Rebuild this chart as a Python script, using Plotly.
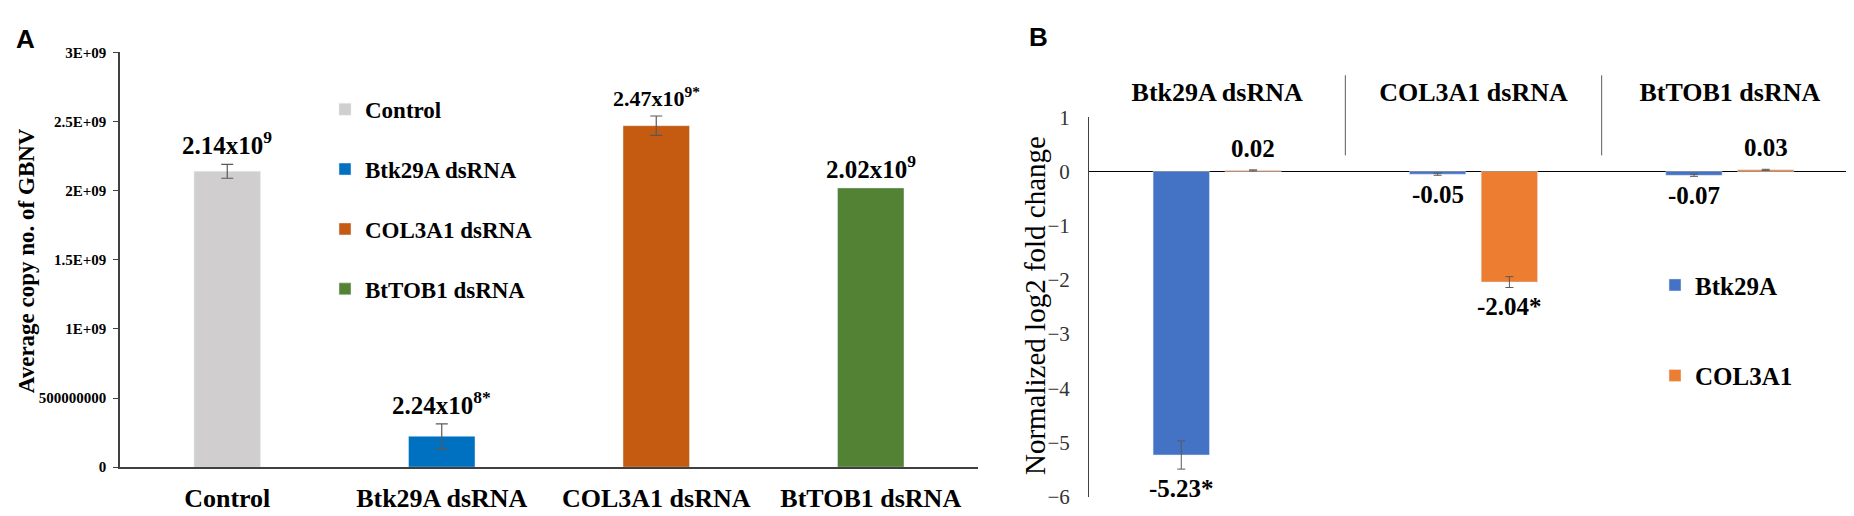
import plotly.graph_objects as go

# panel A: average copy number of GBNV
a_cats = ["Control", "Btk29A dsRNA", "COL3A1 dsRNA", "BtTOB1 dsRNA"]
a_vals = [2.14e9, 2.24e8, 2.47e9, 2.02e9]
a_err = [0.05e9, 0.09e9, 0.07e9, 0]
a_labels = ["2.14x10<sup>9</sup>", "2.24x10<sup>8*</sup>", "2.47x10<sup>9*</sup>", "2.02x10<sup>9</sup>"]
a_colors = ["#d0cece", "#0070c0", "#c55a11", "#548235"]
a_tickvals = [0, 5e8, 1e9, 1.5e9, 2e9, 2.5e9, 3e9]
a_ticktext = ["0", "500000000", "1E+09", "1.5E+09", "2E+09", "2.5E+09", "3E+09"]

# panel B: normalized log2 fold change
b_cats = ["Btk29A dsRNA", "COL3A1 dsRNA", "BtTOB1 dsRNA"]
b_btk = [-5.23, -0.05, -0.07]
b_btk_err = [0.26, 0.02, 0.02]
b_btk_labels = ["-5.23*", "-0.05", "-0.07"]
b_col = [0.02, -2.04, 0.03]
b_col_err = [0.01, 0.10, 0.01]
b_col_labels = ["0.02", "-2.04*", "0.03"]
b_tickvals = [1, 0, -1, -2, -3, -4, -5, -6]

W, H = 1854, 516
SERIF = "Liberation Serif, Times New Roman, serif"
SANS = "Liberation Sans, Arial, sans-serif"

def px_x(p):
    return p / W

def px_y(p):
    return (H - p) / H

fig = go.Figure()

for i, cat in enumerate(a_cats):
    fig.add_trace(go.Bar(
        x=[cat], y=[a_vals[i]], name=cat, marker_color=a_colors[i],
        width=0.31, offsetgroup="a", legendgroup=cat, legend="legend",
        error_y=dict(type="data", array=[a_err[i]], visible=a_err[i] > 0,
                     color="#595959", thickness=1.2, width=6),
        xaxis="x", yaxis="y",
    ))

bw = 0.22
b_offsets = [-0.25, 0.03]
for name, vals, errs, col, off in [("Btk29A", b_btk, b_btk_err, "#4472c4", b_offsets[0]),
                                   ("COL3A1", b_col, b_col_err, "#ed7d31", b_offsets[1])]:
    fig.add_trace(go.Bar(
        x=b_cats, y=vals, name=name, marker_color=col, width=bw, offset=off,
        legendgroup=name, legend="legend2",
        error_y=dict(type="data", array=errs, color="#595959", thickness=1, width=4),
        xaxis="x2", yaxis="y2",
    ))

anns = []
for i, lab in enumerate(a_labels):
    anns.append(dict(x=i, y=a_vals[i] + a_err[i], xref="x", yref="y", text="<b>" + lab + "</b>",
                     showarrow=False, xanchor="center", yanchor="bottom", yshift=3,
                     font=dict(family=SERIF, size=22 if i == 2 else 25, color="black")))

for vals, errs, labs, off in [(b_btk, b_btk_err, b_btk_labels, b_offsets[0]),
                              (b_col, b_col_err, b_col_labels, b_offsets[1])]:
    for i, lab in enumerate(labs):
        pos = vals[i] >= 0
        anns.append(dict(x=i + off + bw / 2, xref="x2", yref="y2",
                         y=vals[i] + errs[i] if pos else vals[i] - errs[i],
                         text="<b>" + lab + "</b>", showarrow=False, xanchor="center",
                         yanchor="bottom" if pos else "top", yshift=6 if pos else -4,
                         font=dict(family=SERIF, size=25, color="black")))

anns += [
    dict(x=px_x(18), y=px_y(253), xref="paper", yref="paper", text="<b>Average copy no. of GBNV</b>",
         textangle=-90, showarrow=False, xanchor="center", yanchor="middle",
         font=dict(family=SERIF, size=23, color="black")),
    dict(x=px_x(1027), y=px_y(300), xref="paper", yref="paper", text="Normalized log2 fold change",
         textangle=-90, showarrow=False, xanchor="center", yanchor="middle",
         font=dict(family=SERIF, size=29, color="black")),
    dict(x=px_x(17), y=px_y(20), xref="paper", yref="paper", text="<b>A</b>",
         showarrow=False, xanchor="center", yanchor="middle",
         font=dict(family=SANS, size=26, color="black")),
    dict(x=px_x(1030), y=px_y(18), xref="paper", yref="paper", text="<b>B</b>",
         showarrow=False, xanchor="center", yanchor="middle",
         font=dict(family=SANS, size=26, color="black")),
]

shapes = []
for i in range(len(b_cats) - 1):
    shapes.append(dict(type="line", xref="x2", yref="paper", x0=i + 0.5, x1=i + 0.5,
                       y0=px_y(142), y1=px_y(58), line=dict(color="#595959", width=1)))

fig.update_layout(
    width=W, height=H, margin=dict(l=0, r=0, t=0, b=0),
    paper_bgcolor="white", plot_bgcolor="white",
    barmode="group", annotations=anns, shapes=shapes,
    xaxis=dict(domain=[px_x(112), px_x(970)], anchor="y", showline=True, linecolor="#404040",
               linewidth=1.5, showgrid=False, ticks="", ticklabelstandoff=7,
               tickfont=dict(family=SERIF, size=26, color="black", weight="bold")),
    yaxis=dict(domain=[px_y(469), px_y(34)], anchor="x", range=[0, 3e9], showline=True,
               linecolor="#404040", linewidth=1.5, showgrid=False, zeroline=False,
               tickvals=a_tickvals, ticktext=a_ticktext, ticks="outside", ticklen=5,
               tickcolor="#404040", ticklabelstandoff=4,
               tickfont=dict(family=SERIF, size=15, color="black", weight="bold")),
    xaxis2=dict(domain=[px_x(1081), px_x(1850)], anchor="y2", side="top", showline=False,
                showgrid=False, ticks="", ticklabelstandoff=10,
                tickfont=dict(family=SERIF, size=26, color="black", weight="bold")),
    yaxis2=dict(domain=[px_y(500), px_y(102)], anchor="x2", range=[-6, 1], showline=True,
                linecolor="#404040", linewidth=1, showgrid=False, zeroline=True,
                zerolinecolor="black", zerolinewidth=1.2, tickvals=b_tickvals, ticks="",
                ticklabelstandoff=14, tickfont=dict(family=SERIF, size=21, color="#333333")),
    legend=dict(x=px_x(317), y=px_y(71), xanchor="left", yanchor="top", traceorder="grouped",
                tracegroupgap=27, bgcolor="rgba(0,0,0,0)",
                font=dict(family=SERIF, size=23, color="black", weight="bold")),
    legend2=dict(x=px_x(1647), y=px_y(254), xanchor="left", yanchor="top", traceorder="grouped",
                 tracegroupgap=55, bgcolor="rgba(0,0,0,0)",
                 font=dict(family=SERIF, size=25, color="black", weight="bold")),
)

fig.write_html("out.html")
